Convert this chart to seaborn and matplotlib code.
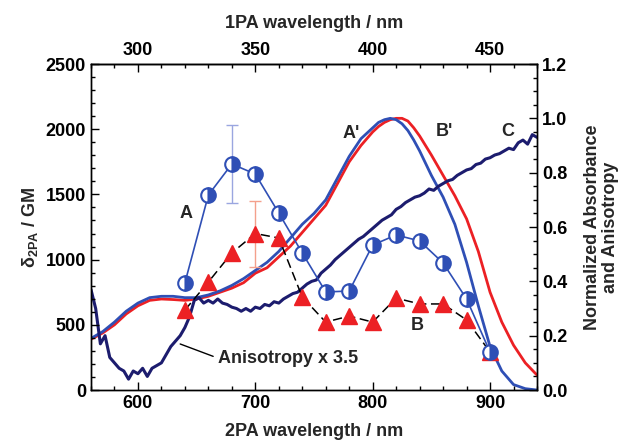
import numpy as np
import pandas as pd
import seaborn as sns
import matplotlib.pyplot as plt
from matplotlib.ticker import MultipleLocator

# 2PA cross sections (GM) for compounds A and B
tpa_wl = [640, 660, 680, 700, 720, 740, 760, 780, 800, 820, 840, 860, 880, 900]
tpa_A = [821, 1495, 1733, 1656, 1357, 1051, 752, 759, 1112, 1189, 1143, 974, 698, 291]
tpa_B = [613, 828, 1051, 1200, 1166, 713, 521, 567, 521, 705, 660, 660, 537, 291]
errA_wl, errA_val, errA_err = 680, 1733, 300
errB_wl, errB_val, errB_err = 700, 1196, 253

# normalized 1PA absorbance, plotted at 2x wavelength
abs_wl = [560, 570, 580, 590, 600, 610, 620, 630, 640, 650, 660, 670, 680, 690,
          700, 710, 720, 730, 740, 750, 760, 770, 780, 790, 800, 805, 810, 815,
          820, 825, 830, 835, 840, 850, 860, 870, 880, 890, 900, 910, 920, 930, 940]
abs_A = [0.19, 0.215, 0.25, 0.29, 0.32, 0.34, 0.345, 0.345, 0.34, 0.34, 0.35, 0.365,
         0.385, 0.41, 0.44, 0.47, 0.51, 0.56, 0.61, 0.65, 0.70, 0.78, 0.86, 0.925,
         0.965, 0.985, 0.995, 1.0, 0.995, 0.98, 0.955, 0.92, 0.88, 0.79, 0.71, 0.61,
         0.47, 0.31, 0.16, 0.07, 0.02, 0.005, 0.0]
abs_B = [0.187, 0.21, 0.24, 0.28, 0.31, 0.33, 0.335, 0.333, 0.33, 0.335, 0.345, 0.36,
         0.375, 0.395, 0.43, 0.45, 0.49, 0.53, 0.58, 0.63, 0.68, 0.76, 0.84, 0.90,
         0.95, 0.97, 0.985, 0.995, 1.0, 1.0, 0.99, 0.965, 0.935, 0.865, 0.79, 0.715,
         0.63, 0.51, 0.36, 0.25, 0.165, 0.10, 0.055]

# anisotropy x 3.5 (curve C), 4 nm steps from 560 to 940
aniso_wl = np.arange(560, 941, 4)
aniso = [0.37, 0.30, 0.17, 0.20, 0.12, 0.10, 0.08, 0.07, 0.04, 0.07, 0.06, 0.08,
         0.05, 0.08, 0.09, 0.10, 0.13, 0.16, 0.18, 0.20, 0.23, 0.27, 0.33, 0.34,
         0.32, 0.33, 0.32, 0.335, 0.32, 0.315, 0.305, 0.30, 0.29, 0.30, 0.29, 0.305,
         0.30, 0.315, 0.31, 0.325, 0.32, 0.335, 0.345, 0.355, 0.36, 0.375, 0.39, 0.40,
         0.405, 0.43, 0.445, 0.46, 0.48, 0.495, 0.51, 0.525, 0.54, 0.555, 0.565, 0.58,
         0.595, 0.61, 0.625, 0.635, 0.645, 0.665, 0.675, 0.69, 0.70, 0.71, 0.715, 0.725,
         0.74, 0.735, 0.75, 0.76, 0.77, 0.775, 0.79, 0.80, 0.81, 0.815, 0.83, 0.835,
         0.85, 0.855, 0.865, 0.87, 0.88, 0.89, 0.885, 0.91, 0.92, 0.905, 0.94, 0.93]

blue = '#2f4fb5'
red = '#ec2024'
navy = '#1c1c6e'

sns.set_theme(style='ticks')
plt.rcParams['font.family'] = ['Liberation Sans', 'DejaVu Sans']
plt.rcParams['font.weight'] = 'bold'
plt.rcParams['axes.labelweight'] = 'bold'
plt.rcParams['mathtext.fontset'] = 'custom'
plt.rcParams['mathtext.rm'] = 'Liberation Sans:bold'
plt.rcParams['mathtext.bf'] = 'Liberation Sans:bold'
plt.rcParams['mathtext.it'] = 'Liberation Sans:bold'

fig, ax = plt.subplots(figsize=(6.24, 4.42), dpi=100)
fig.subplots_adjust(left=0.1458, right=0.8606, bottom=0.1176, top=0.8552)
ax2 = ax.twinx()

# spectra on the right axis
df_abs = pd.DataFrame({'wl': abs_wl, 'A': abs_A, 'B': abs_B})
sns.lineplot(data=df_abs, x='wl', y='B', color=red, lw=2.0, ax=ax2)
sns.lineplot(data=df_abs, x='wl', y='A', color=blue, lw=2.0, ax=ax2)
sns.lineplot(x=aniso_wl, y=aniso, color=navy, lw=2.2, ax=ax2)

# 2PA data on the left axis (drawn above the spectra)
ax.set_zorder(ax2.get_zorder() + 1)
ax.patch.set_visible(False)
ax.errorbar(errA_wl, errA_val, yerr=errA_err, color='#9aa6e0', lw=1, capsize=4, capthick=1, zorder=2)
ax.errorbar(errB_wl, errB_val, yerr=errB_err, color='#f4a08c', lw=1, capsize=4, capthick=1, zorder=2)
ax.plot(tpa_wl, tpa_B, color='black', lw=1.1, dashes=(6, 3), zorder=3)
ax.plot(tpa_wl, tpa_B, ls='none', marker='^', ms=12, color=red, mec=red, zorder=4)
ax.plot(tpa_wl, tpa_A, color=blue, lw=1.2, marker='o', ms=10.5, mew=1.5,
        fillstyle='right', mfc=blue, mfcalt='white', mec=blue, zorder=5)

# labels
lab = dict(fontsize=13, fontweight='bold', ha='center', va='center')
ax.text(641, 1357, 'A', **lab)
ax.text(838, 491, 'B', **lab)
ax2.text(782, 0.946, "A'", **lab)
ax2.text(861, 0.95, "B'", **lab)
ax2.text(915, 0.953, 'C', **lab)
ax.annotate('Anisotropy x 3.5', xy=(636, 353), xytext=(668, 245), fontsize=13,
            fontweight='bold', ha='left', va='center',
            arrowprops=dict(arrowstyle='-', color='black', lw=1, relpos=(0, 0.5), shrinkA=1, shrinkB=0))

# axes
ax.set_xlim(560, 940)
ax.set_ylim(0, 2500)
ax2.set_ylim(0, 1.2)
ax.xaxis.set_major_locator(MultipleLocator(100))
ax.xaxis.set_minor_locator(MultipleLocator(20))
ax.yaxis.set_major_locator(MultipleLocator(500))
ax.yaxis.set_minor_locator(MultipleLocator(100))
ax2.yaxis.set_major_locator(MultipleLocator(0.2))
ax2.yaxis.set_minor_locator(MultipleLocator(0.05))
ax2.yaxis.set_major_formatter(plt.FormatStrFormatter('%.1f'))

top = ax.secondary_xaxis('top', functions=(lambda x: x / 2, lambda x: x * 2))
top.xaxis.set_major_locator(MultipleLocator(50))
top.xaxis.set_minor_locator(MultipleLocator(10))

for a in (ax, ax2):
    for s in a.spines.values():
        s.set_color('black')
        s.set_linewidth(1.0)
ax.tick_params(which='both', direction='in', top=False, right=False, labelsize=13, colors='black')
ax2.tick_params(which='both', direction='in', labelsize=13, colors='black')
top.tick_params(which='both', direction='in', labelsize=13, colors='black')
for a in (ax, ax2, top):
    a.tick_params(which='major', length=6, width=1)
    a.tick_params(which='minor', length=3, width=1)
top.spines['top'].set_linewidth(1.0)

ax.set_xlabel('2PA wavelength / nm', fontsize=13, fontweight='bold', labelpad=8)
ax.set_ylabel('δ$_{2PA}$ / GM', fontsize=13, fontweight='bold', labelpad=4)
top.set_xlabel('1PA wavelength / nm', fontsize=13, fontweight='bold', labelpad=10)
ax2.set_ylabel('Normalized Absorbance\nand Anisotropy', fontsize=13, fontweight='bold',
               labelpad=12, linespacing=1.1)

fig.savefig('out.png', dpi=100)
